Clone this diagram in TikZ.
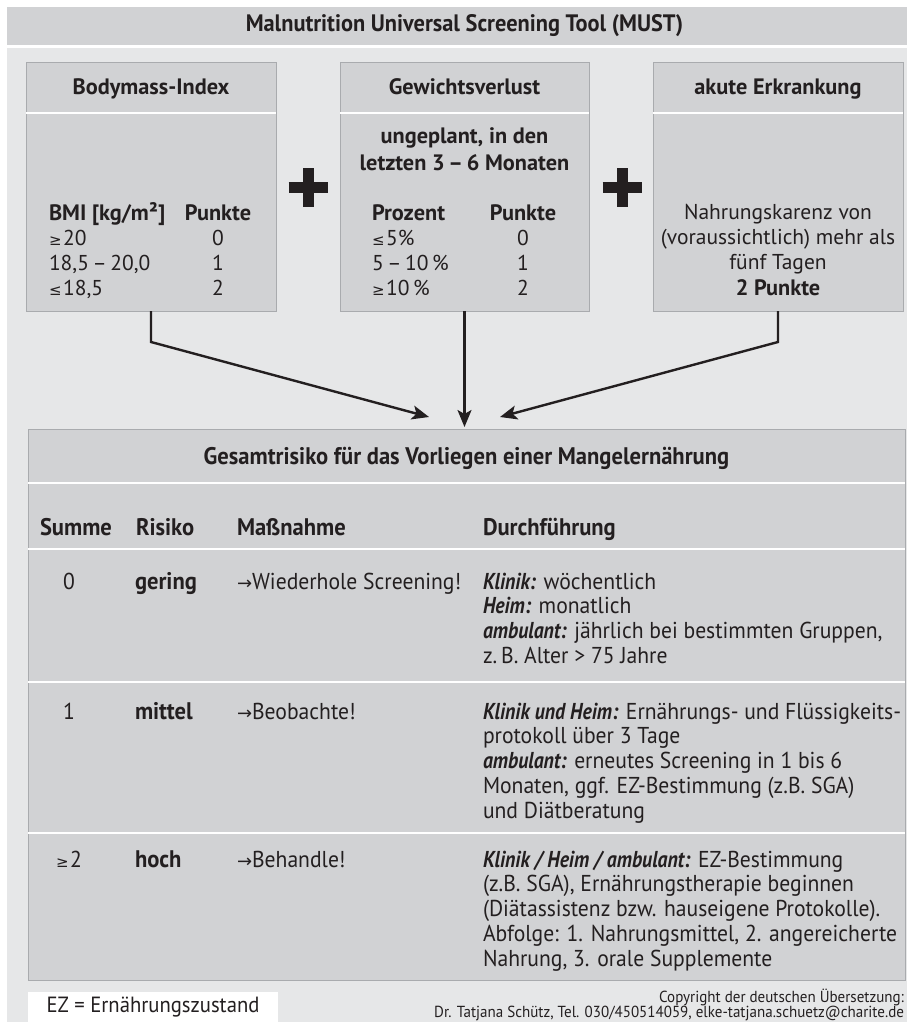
\documentclass[tikz,border=0pt]{standalone}
\usepackage{fontspec}
\setmainfont{PT Sans}
\newfontfamily\narrowfont[FakeStretch=0.94]{PT Sans}
\newfontfamily\keyfont[FakeStretch=0.86]{PT Sans}
\newfontfamily\symbolfont{DejaVu Sans}
\usetikzlibrary{arrows.meta}

\definecolor{panel}{HTML}{D1D2D4}
\definecolor{ground}{HTML}{E6E7E8}
\definecolor{rim}{HTML}{A9ABAE}
\definecolor{ink}{HTML}{231F20}

\newcommand{\boxfont}{\fontsize{21.5}{25}\selectfont}
\newcommand{\boxbold}{\fontsize{22.3}{25}\selectfont\bfseries}
\newcommand{\tabfont}{\narrowfont\fontsize{23}{24.75}\selectfont}
\newcommand{\tabbold}{\narrowfont\fontsize{24}{24.75}\selectfont\bfseries}
\newcommand{\geqs}{{\symbolfont\fontsize{15}{15}\selectfont ≥}\kern1.5pt}
\newcommand{\leqs}{{\symbolfont\fontsize{15}{15}\selectfont ≤}\kern1.5pt}
\newcommand{\toarr}{{\symbolfont\fontsize{18}{18}\selectfont →}}
\newcommand{\textlines}[1]{\begin{tabular}[t]{@{}l@{}}#1\end{tabular}}
\newcommand{\key}[1]{{\keyfont\bfseries\itshape #1}}

\begin{document}
\begin{tikzpicture}[x=1pt,y=-1pt,
  every node/.style={text=ink, inner sep=0pt, outer sep=0pt},
  frame/.style={draw=rim, fill=panel, line width=0.8pt, anchor=north west},
  gap/.style={draw=white, line width=2.6pt},
  boxtxt/.style={font=\boxfont},
  boxhead/.style={font=\boxbold},
  tabtxt/.style={font=\tabfont},
  tabhead/.style={font=\tabbold},
  link/.style={draw=ink, line width=2.4pt, -{Stealth[length=17pt,width=14pt,inset=4pt]}},
  plusbar/.style={draw=ink, line width=11pt}
]
\useasboundingbox (0,0) rectangle (907,1022);
\fill[white] (0,0) rectangle (907,1022);
\fill[ground] (7,48) rectangle (907,1022);

\node[frame, draw=none, minimum width=900pt, minimum height=38pt] (must) at (7,7) {};
\node[font=\narrowfont\fontsize{23.8}{26}\selectfont\bfseries] (musttitle) at (464.5,26)
  {Malnutrition Universal Screening Tool (MUST)};

% the three criteria
\node[frame, minimum width=250pt, minimum height=249pt] (bmi) at (26,62) {};
\node[frame, minimum width=249pt, minimum height=249pt] (loss) at (340,62) {};
\node[frame, minimum width=250pt, minimum height=249pt] (ill) at (653,62) {};
\foreach \b in {bmi,loss,ill}
  \path[gap] ([yshift=-51pt]\b.north west) -- ([yshift=-51pt]\b.north east);

\node[boxhead, anchor=base] (bmihead) at (151,95) {Bodymass-Index};
\node[boxhead, anchor=base] (losshead) at (464.5,95) {Gewichtsverlust};
\node[boxhead, anchor=base] (illhead) at (778,95) {akute Erkrankung};

\node[boxhead, anchor=base west] (bmicol) at (49,220) {BMI [kg/m²]};
\node[boxhead, anchor=base] (bmipts) at (218,220) {Punkte};
\foreach \v/\p [count=\i] in {{\geqs20}/0,{18,5\,–\,20,0}/1,{\leqs18,5}/2} {
  \node[boxtxt, anchor=base west] (bmi-\i) at (49,220+25*\i) {\v};
  \node[boxtxt, anchor=base] (bmip-\i) at (218,220+25*\i) {\p};
}

\node[boxhead, anchor=base] (losssub1) at (464.5,143) {ungeplant, in den};
\node[boxhead, anchor=base] (losssub2) at (464.5,170) {letzten 3\,–\,6 Monaten};
\node[boxhead, anchor=base west] (losscol) at (372,220) {Prozent};
\node[boxhead, anchor=base] (losspts) at (523,220) {Punkte};
\foreach \v/\p [count=\i] in {{\leqs5\%}/0,{5\,–\,10\,\%}/1,{\geqs10\,\%}/2} {
  \node[boxtxt, anchor=base west] (loss-\i) at (372,220+25*\i) {\v};
  \node[boxtxt, anchor=base] (lossp-\i) at (523,220+25*\i) {\p};
}

\foreach \t [count=\i] in {Nahrungskarenz von,(voraussichtlich) mehr als,fünf Tagen}
  \node[boxtxt, anchor=base] (ill-\i) at (778,194+25.3*\i) {\t};
\node[boxhead, anchor=base] (illpts) at (778,295) {2 Punkte};

\coordinate (plus1) at (308,187);
\coordinate (plus2) at (622,187);
\foreach \p in {plus1,plus2} {
  \path[plusbar] ([xshift=-19.5pt]\p) -- ([xshift=19.5pt]\p);
  \path[plusbar] ([yshift=-19.5pt]\p) -- ([yshift=19.5pt]\p);
}

% overall risk
\node[frame, minimum width=877pt, minimum height=551pt] (risk) at (28,429) {};
\foreach \y in {483,549,682,833}
  \path[gap] (28.4,\y) -- (904.6,\y);

\coordinate (bend1) at (151,342);
\coordinate (tip1) at (429,417);
\coordinate (bend3) at (778,342);
\coordinate (tip3) at (500,417);
\path[link] (bmi.south) -- (bend1) -- (tip1);
\path[link, shorten >=2pt] (loss.south) -- (loss.south |- risk.north);
\path[link] (ill.south) -- (bend3) -- (tip3);

\node[tabhead, anchor=base] (risktitle) at (466.5,464)
  {Gesamtrisiko für das Vorliegen einer Mangelernährung};
\node[tabhead, anchor=base west] (colsum) at (40,535) {Summe};
\node[tabhead, anchor=base west] (colrisk) at (136,535) {Risiko};
\node[tabhead, anchor=base west] (colstep) at (237,535) {Maßnahme};
\node[tabhead, anchor=base west] (coldo) at (483,535) {Durchführung};

\node[tabtxt, anchor=base] (sum0) at (69,589) {0};
\node[tabhead, anchor=base west] (risk0) at (135,589) {gering};
\node[tabtxt, anchor=base west] (step0) at (237,589) {\toarr Wiederhole Screening!};
\node[tabtxt, anchor=base west] (do0) at (483,589) {\textlines{%
  \key{Klinik:} wöchentlich\\
  \key{Heim:} monatlich\\
  \key{ambulant:} jährlich bei bestimmten Gruppen,\\
  z.\,B. Alter > 75 Jahre}};

\node[tabtxt, anchor=base] (sum1) at (69,719) {1};
\node[tabhead, anchor=base west] (risk1) at (135,719) {mittel};
\node[tabtxt, anchor=base west] (step1) at (237,719) {\toarr Beobachte!};
\node[tabtxt, anchor=base west] (do1) at (483,719) {\textlines{%
  \key{Klinik und Heim:} Ernährungs- und Flüssigkeits-\\
  protokoll über 3 Tage\\
  \key{ambulant:} erneutes Screening in 1 bis 6\\
  Monaten, ggf. EZ-Bestimmung (z.B. SGA)\\
  und Diätberatung}};

\node[tabtxt, anchor=base] (sum2) at (69,867) {\geqs2};
\node[tabhead, anchor=base west] (risk2) at (135,867) {hoch};
\node[tabtxt, anchor=base west] (step2) at (237,867) {\toarr Behandle!};
\node[tabtxt, anchor=base west] (do2) at (483,867) {\textlines{%
  \key{Klinik / Heim / ambulant:} EZ-Bestimmung\\
  (z.B. SGA), Ernährungstherapie beginnen\\
  (Diätassistenz bzw. hauseigene Protokolle).\\
  Abfolge: 1. Nahrungsmittel, 2. angereicherte\\
  Nahrung, 3. orale Supplemente}};

\node[fill=white, anchor=north west, minimum width=250pt, minimum height=30pt,
  font=\narrowfont\fontsize{22}{24}\selectfont] (ez) at (28,992) {EZ = Ernährungszustand};
\node[anchor=base east, font=\narrowfont\fontsize{16}{13.5}\selectfont] (copy) at (904,1002)
  {\begin{tabular}[t]{@{}r@{}}Copyright der deutschen Übersetzung:\\
  Dr. Tatjana Schütz, Tel. 030/450514059, elke-tatjana.schuetz@charite.de\end{tabular}};
\end{tikzpicture}
\end{document}
